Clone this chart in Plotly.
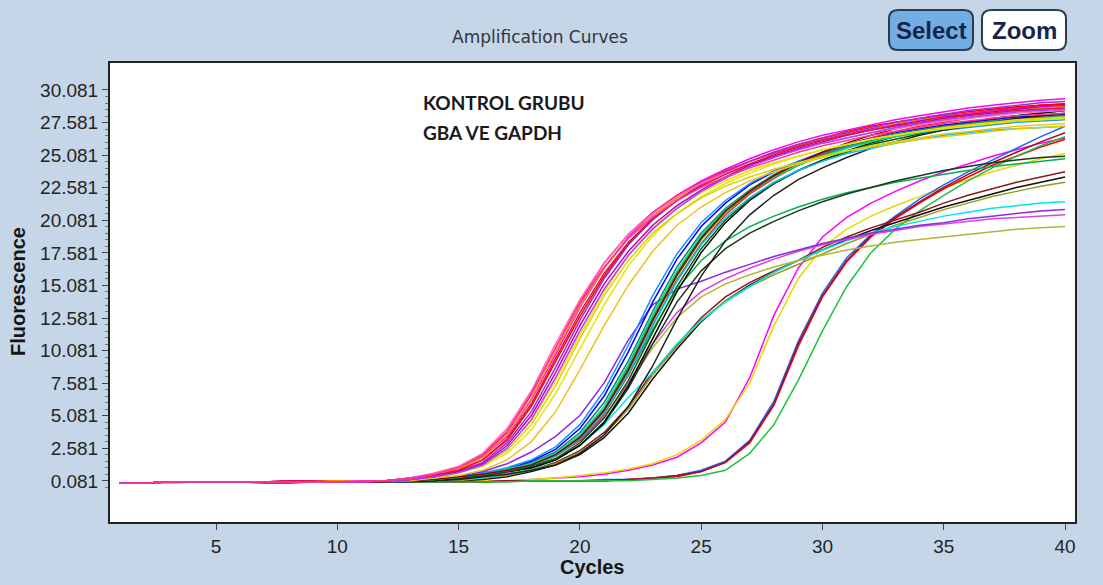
import plotly.graph_objects as go

cycles = list(range(1, 41))

# ---- early group (pink / magenta / red / orange) ----
a1 = [-0.1,-0.1,0.0,0.0,0.0,0.0,0.0,0.0,0.0,0.0,0.1,0.1, 0.3,0.6,1.1,1.9,3.5,6.3,9.8,13.4,16.4,18.8,20.6,22.0,23.1,24.0,24.8,25.5,26.1,26.6,27.0,27.4,27.8,28.1,28.4,28.7,28.9,29.1,29.3,29.4]
a2 = [-0.1,-0.1,0.0,0.0,0.0,0.0,0.0,0.0,0.0,0.1,0.1,0.1, 0.3,0.6,1.1,2.0,3.8,6.7,10.3,13.8,16.8,19.0,20.7,22.0,23.0,23.9,24.6,25.2,25.8,26.3,26.7,27.1,27.5,27.8,28.1,28.3,28.5,28.7,28.9,29.0]
a3 = [-0.1,-0.1,0.0,0.0,0.0,0.0,0.0,0.0,0.0,0.0,0.0,0.1, 0.2,0.5,0.9,1.7,3.2,5.8,9.2,12.7,15.8,18.3,20.2,21.6,22.8,23.8,24.6,25.3,25.9,26.4,26.9,27.3,27.6,27.9,28.2,28.4,28.6,28.8,28.9,29.0]
a4 = [-0.1,-0.1,0.0,0.0,0.0,0.0,0.0,0.0,0.1,0.1,0.1,0.1, 0.3,0.6,1.0,1.9,3.6,6.4,10.0,13.5,16.4,18.7,20.4,21.8,22.9,23.8,24.6,25.3,25.9,26.4,26.8,27.2,27.5,27.8,28.0,28.2,28.4,28.6,28.7,28.8]
a5 = [-0.1,-0.1,0.0,0.0,0.0,0.0,-0.1,-0.1,0.0,0.0,0.0,0.1, 0.2,0.4,0.8,1.5,3.0,5.4,8.8,12.4,15.6,18.2,20.1,21.6,22.8,23.8,24.6,25.3,25.9,26.4,26.8,27.2,27.6,27.9,28.2,28.5,28.7,28.9,29.1,29.2]
a6 = [-0.1,-0.1,0.0,0.0,0.0,0.0,0.0,0.0,0.0,0.0,0.1,0.1, 0.3,0.7,1.2,2.2,4.1,7.0,10.6,14.0,16.8,19.0,20.6,21.9,22.9,23.7,24.4,25.0,25.5,26.0,26.4,26.8,27.1,27.4,27.7,27.9,28.1,28.3,28.4,28.5]
a7 = [-0.1,-0.1,0.0,0.0,0.0,0.0,0.0,0.0,0.0,0.0,0.0,0.1, 0.2,0.4,0.8,1.4,2.8,5.1,8.4,12.0,15.2,17.7,19.7,21.2,22.4,23.4,24.3,25.0,25.6,26.1,26.6,27.0,27.4,27.7,28.0,28.2,28.4,28.6,28.8,28.9]
a8 = [-0.1,-0.1,0.0,0.0,0.0,0.0,0.0,0.1,0.1,0.0,0.0,0.1, 0.2,0.5,0.9,1.7,3.3,6.0,9.5,13.0,16.0,18.4,20.2,21.6,22.7,23.6,24.4,25.1,25.7,26.2,26.6,27.0,27.3,27.6,27.9,28.1,28.3,28.5,28.6,28.7]
a9 = [-0.1,-0.1,0.0,0.0,0.0,0.0,0.0,0.0,0.0,0.0,0.0,0.1, 0.2,0.4,0.7,1.3,2.6,4.8,8.0,11.6,14.8,17.4,19.4,21.0,22.3,23.3,24.2,24.9,25.5,26.0,26.4,26.8,27.2,27.5,27.8,28.0,28.2,28.4,28.5,28.6]
a10 = [-0.1,-0.1,0.0,0.0,0.0,0.0,0.0,0.0,0.0,0.0,0.1,0.1, 0.3,0.6,1.1,2.1,3.9,6.8,10.3,13.7,16.5,18.7,20.3,21.6,22.6,23.4,24.1,24.7,25.3,25.8,26.2,26.6,26.9,27.2,27.5,27.7,27.9,28.1,28.2,28.3]

# ---- yellow curves of the early group ----
y1 = [-0.1,-0.1,-0.1,0.0,0.0,0.0,0.0,0.0,0.1,0.1,0.1,0.1, 0.2,0.4,0.8,1.4,2.6,4.7,7.8,11.3,14.6,17.4,19.5,21.0,22.2,23.1,23.9,24.5,25.0,25.5,25.9,26.3,26.6,26.9,27.2,27.4,27.6,27.8,27.9,28.0]
y2 = [-0.1,-0.1,-0.1,0.0,0.0,0.0,0.0,0.0,0.0,0.1,0.1,0.1, 0.2,0.3,0.7,1.2,2.2,4.0,6.8,10.2,13.6,16.6,18.9,20.6,21.9,22.9,23.7,24.4,25.0,25.5,25.9,26.3,26.6,26.9,27.1,27.3,27.5,27.7,27.8,27.9]
y3 = [-0.1,-0.1,-0.1,0.0,0.0,0.0,0.0,0.0,0.0,0.1,0.1,0.1, 0.1,0.3,0.5,0.9,1.7,3.1,5.4,8.6,12.0,15.1,17.7,19.7,21.1,22.2,23.1,23.8,24.4,24.9,25.4,25.8,26.1,26.4,26.7,26.9,27.1,27.3,27.4,27.5]
y4 = [-0.1,-0.1,-0.1,0.0,0.0,0.0,0.0,0.0,0.0,0.1,0.1,0.1, 0.2,0.3,0.7,1.3,2.4,4.4,7.4,11.0,14.3,17.0,19.1,20.6,21.8,22.7,23.4,24.0,24.5,25.0,25.4,25.7,26.0,26.3,26.5,26.7,26.9,27.1,27.2,27.3]

# ---- middle group (green / teal / black / blue) ----
b1 = [-0.1,-0.1,0.0,0.0,0.0,0.0,0.0,0.0,0.0,0.0,0.0,0.0, 0.1,0.2,0.4,0.6,0.9,1.3,2.0,3.3,5.4,8.5,12.3,15.8,18.6,20.7,22.2,23.4,24.3,25.1,25.7,26.2,26.6,27.0,27.3,27.6,27.9,28.1,28.3,28.5]
b2 = [-0.1,-0.1,0.0,0.0,0.0,0.0,0.0,0.0,0.0,0.0,0.0,0.0, 0.1,0.2,0.4,0.6,1.0,1.5,2.3,3.8,6.1,9.3,13.1,16.5,19.1,21.0,22.4,23.5,24.4,25.1,25.7,26.2,26.6,27.0,27.3,27.5,27.7,27.9,28.0,28.1]
b3 = [-0.1,-0.1,0.0,0.0,0.0,0.0,0.0,0.0,0.0,0.0,0.0,0.0, 0.1,0.1,0.3,0.5,0.8,1.1,1.7,2.8,4.6,7.4,11.0,14.6,17.6,19.9,21.6,22.9,23.9,24.7,25.4,26.0,26.5,26.9,27.3,27.6,27.9,28.1,28.3,28.5]
b4 = [-0.1,-0.1,0.0,0.0,0.0,0.0,0.0,0.0,0.0,0.0,0.0,0.0, 0.1,0.2,0.4,0.7,1.0,1.6,2.5,4.1,6.6,10.0,13.8,17.1,19.6,21.4,22.8,23.8,24.6,25.3,25.9,26.4,26.8,27.1,27.4,27.6,27.8,28.0,28.1,28.2]
b5 = [-0.1,-0.1,0.0,0.0,0.0,0.0,0.0,0.1,0.1,0.0,0.0,0.0, 0.1,0.2,0.4,0.6,0.9,1.3,2.0,3.2,5.2,8.2,12.0,15.5,18.3,20.5,22.1,23.3,24.3,25.1,25.8,26.4,26.9,27.3,27.6,27.9,28.2,28.4,28.6,28.8]
b6 = [-0.1,-0.1,0.0,0.0,0.0,0.0,0.0,0.0,0.0,0.0,0.0,0.0, 0.1,0.1,0.3,0.5,0.8,1.2,1.8,3.0,4.9,7.8,11.5,15.0,17.9,20.1,21.7,22.9,23.9,24.7,25.3,25.9,26.3,26.7,27.0,27.3,27.5,27.7,27.9,28.0]
b7 = [-0.1,-0.1,0.0,0.0,0.0,0.0,0.0,0.0,0.1,0.1,0.0,0.0, 0.1,0.2,0.4,0.7,1.1,1.7,2.7,4.4,7.0,10.5,14.3,17.5,19.9,21.6,22.9,23.9,24.6,25.2,25.7,26.1,26.5,26.8,27.0,27.2,27.4,27.6,27.7,27.8]
b8 = [-0.1,-0.1,0.0,0.0,0.0,0.0,0.0,0.0,0.0,0.0,0.0,0.0, 0.1,0.2,0.4,0.6,0.9,1.3,2.1,3.5,5.6,8.8,12.6,16.0,18.8,20.9,22.4,23.6,24.5,25.2,25.8,26.3,26.7,27.0,27.3,27.5,27.7,27.9,28.0,28.1]
b9 = [-0.1,-0.1,0.0,0.0,0.0,0.0,0.0,0.0,0.0,0.0,0.0,0.0, 0.0,0.1,0.2,0.4,0.6,0.9,1.3,2.2,3.6,5.8,8.9,12.5,15.8,18.5,20.5,22.0,23.2,24.1,24.9,25.6,26.1,26.6,27.0,27.3,27.6,27.9,28.1,28.3]
b10 = [-0.1,-0.1,0.0,0.0,0.0,0.0,0.0,0.0,0.0,0.0,0.0,0.0, 0.1,0.2,0.4,0.6,1.0,1.4,2.2,3.6,5.8,9.0,12.8,16.2,18.9,20.9,22.3,23.4,24.3,25.0,25.6,26.1,26.5,26.8,27.1,27.3,27.5,27.7,27.8,27.9]
b11 = [-0.1,-0.1,0.0,0.0,0.0,0.0,0.0,0.0,0.1,0.1,0.1,0.0, 0.1,0.2,0.4,0.6,0.9,1.3,2.0,3.3,5.3,8.3,12.0,15.4,18.2,20.3,21.8,23.0,23.9,24.6,25.2,25.6,26.0,26.3,26.6,26.8,27.0,27.1,27.2,27.3]
b12 = [-0.1,-0.1,0.0,0.0,0.0,0.0,0.0,0.0,0.1,0.1,0.0,0.0, 0.1,0.2,0.4,0.6,0.9,1.3,2.1,3.4,5.5,8.6,12.4,15.9,18.7,20.8,22.3,23.5,24.5,25.3,26.0,26.6,27.1,27.5,27.9,28.2,28.5,28.7,28.9,29.0]

# ---- middle group, lower plateau ----
l1 = [-0.1,-0.1,0.0,0.0,0.0,0.0,0.0,0.0,0.0,0.0,0.0,0.0, 0.1,0.2,0.4,0.6,0.9,1.3,2.0,3.3,5.3,8.2,11.7,14.8,17.0,18.5,19.6,20.4,21.1,21.7,22.2,22.6,23.0,23.3,23.6,23.9,24.2,24.4,24.6,24.8]
l2 = [-0.1,-0.1,0.0,0.0,0.0,0.0,0.0,0.0,0.0,0.0,0.0,0.0, 0.1,0.1,0.3,0.5,0.8,1.1,1.7,2.8,4.5,7.2,10.6,13.8,16.2,17.9,19.1,20.0,20.8,21.5,22.1,22.6,23.1,23.5,23.9,24.2,24.5,24.7,24.9,25.0]

# ---- early-plateau curves ----
c1 = [-0.1,-0.1,0.0,0.0,0.0,0.0,0.0,0.0,0.0,0.0,0.0,0.0, 0.1,0.2,0.4,0.8,1.4,2.3,3.5,5.1,7.6,10.9,13.6,14.8,15.4,16.1,16.7,17.3,17.8,18.3,18.7,19.1,19.4,19.7,19.9,20.2,20.4,20.6,20.8,20.9]
c2 = [-0.1,-0.1,0.0,0.0,0.0,0.0,0.0,0.0,0.0,0.0,0.0,0.0, 0.1,0.1,0.2,0.4,0.7,1.2,2.0,3.2,5.0,7.6,10.6,13.0,14.6,15.6,16.4,17.1,17.7,18.2,18.6,19.0,19.3,19.6,19.8,20.0,20.2,20.3,20.4,20.5]
o1 = [-0.1,-0.1,0.0,0.0,0.0,0.0,0.0,0.0,0.0,0.0,0.1,0.1, 0.1,0.1,0.2,0.4,0.7,1.2,2.0,3.2,5.0,7.5,10.3,12.6,14.2,15.2,15.9,16.5,17.0,17.4,17.8,18.1,18.4,18.6,18.8,19.0,19.2,19.4,19.5,19.6]
c3 = [-0.1,-0.1,0.0,0.0,0.0,0.0,0.0,0.0,0.0,0.0,0.0,0.0, 0.0,0.1,0.2,0.3,0.6,1.0,1.7,2.8,4.4,6.5,8.4,10.6,12.4,13.8,15.0,16.1,17.0,17.8,18.5,19.1,19.6,20.0,20.4,20.7,21.0,21.2,21.4,21.5]

# ---- dark red / black / olive, plateau about 23-24 ----
r1 = [-0.1,-0.1,0.0,0.0,0.0,0.0,0.0,0.1,0.1,0.0,0.0,0.0, 0.0,0.1,0.1,0.3,0.5,0.9,1.5,2.4,3.8,5.8,8.4,10.5,12.6,14.2,15.3,16.2,17.0,18.0,18.8,19.5,20.1,20.7,21.4,22.0,22.5,23.0,23.4,23.8]
r2 = [-0.1,-0.1,0.0,0.0,0.0,0.0,0.0,0.0,0.0,0.0,0.0,0.0, 0.0,0.1,0.1,0.2,0.4,0.8,1.3,2.1,3.4,5.3,7.9,10.2,12.3,13.9,15.1,16.1,17.0,17.8,18.6,19.3,19.9,20.5,21.1,21.6,22.1,22.6,23.0,23.4]
r3 = [-0.1,-0.1,0.0,0.0,0.0,0.0,0.0,0.0,0.0,0.0,0.0,0.0, 0.0,0.1,0.1,0.3,0.5,0.9,1.4,2.3,3.6,5.6,8.2,10.4,12.4,13.9,15.0,15.9,16.7,17.5,18.3,19.0,19.7,20.3,20.9,21.4,21.9,22.3,22.7,23.0]

# ---- late group ----
d1 = [-0.1,-0.1,0.0,0.0,0.0,0.0,0.0,0.0,0.0,0.0,0.0,0.0, 0.0,0.0,0.1,0.1,0.1,0.2,0.3,0.4,0.6,0.9,1.3,1.9,3.0,4.6,8.0,12.8,16.4,18.8,20.3,21.4,22.3,23.1,23.8,24.4,25.0,25.5,26.0,26.4]
d2 = [-0.1,-0.1,0.0,0.0,0.0,0.0,0.0,0.0,0.1,0.1,0.1,0.0, 0.0,0.0,0.1,0.1,0.1,0.2,0.3,0.5,0.7,1.0,1.4,2.1,3.2,4.8,7.6,12.0,15.6,18.0,19.4,20.4,21.2,21.9,22.6,23.2,23.8,24.3,24.8,25.2]
d3 = [-0.1,-0.1,0.0,0.0,0.0,0.0,0.0,0.0,0.0,0.0,0.0,0.0, 0.0,0.0,0.0,0.0,0.1,0.1,0.1,0.1,0.2,0.2,0.3,0.5,0.9,1.6,3.2,6.2,10.8,14.5,17.2,19.0,20.4,21.7,22.8,23.8,24.7,25.6,26.5,27.3]
d4 = [-0.1,-0.1,0.0,0.0,0.0,0.0,0.0,0.0,0.0,0.0,0.0,0.0, 0.0,0.0,0.0,0.0,0.1,0.1,0.1,0.1,0.1,0.2,0.3,0.4,0.8,1.5,3.0,5.9,10.4,14.2,16.9,18.8,20.2,21.4,22.5,23.4,24.3,25.0,25.7,26.3]
d5 = [-0.1,-0.1,0.0,0.0,0.0,0.0,0.0,0.0,0.0,0.0,0.0,0.0, 0.0,0.0,0.0,0.0,0.1,0.1,0.1,0.1,0.1,0.2,0.3,0.5,0.8,1.5,3.1,6.0,10.6,14.3,17.0,18.9,20.3,21.5,22.6,23.6,24.5,25.3,26.1,26.8]
d6 = [-0.1,-0.1,0.0,0.0,0.0,0.0,0.0,0.0,0.0,0.0,0.0,0.0, 0.0,0.0,0.0,0.0,0.0,0.1,0.1,0.1,0.1,0.1,0.2,0.3,0.5,0.9,2.2,4.4,7.8,11.6,15.0,17.6,19.4,20.8,22.0,23.1,24.1,25.0,25.8,26.5]

series = [d1, d2, d3, d4, d5, d6, r1, r2, r3, c3, o1, c2, c1, l1, l2,
          b1, b2, b3, b4, b5, b6, b7, b8, b9, b10, b11, b12,
          y1, y2, y3, y4,
          a1, a2, a3, a4, a5, a6, a7, a8, a9, a10]
colors = ["#ff00ff", "#e6d800", "#1e64ff", "#ff0000", "#a0102a", "#20c040",
          "#8b1a1a", "#101010", "#9a9a20", "#00e5ee", "#b5b535", "#e040e0", "#8a2be2",
          "#00b050", "#1a3a1a",
          "#00c000", "#008b8b", "#000000", "#0000ff", "#ff2020", "#006400", "#1e90ff",
          "#2e8b57", "#202020", "#00e070", "#00bfff", "#8b0000",
          "#ffd700", "#e6e600", "#f0c020", "#d4d400",
          "#ff00ff", "#ff1493", "#ff0000", "#ff8c00", "#9932cc", "#ff69b4", "#c000c0",
          "#dc143c", "#b040ff", "#ff3399"]

ytick_vals = [0.081, 2.581, 5.081, 7.581, 10.081, 12.581, 15.081, 17.581, 20.081, 22.581, 25.081, 27.581, 30.081]
ytick_text = ["0.081", "2.581", "5.081", "7.581", "10.081", "12.581", "15.081", "17.581",
              "20.081", "22.581", "25.081", "27.581", "30.081"]
xtick_vals = [5, 10, 15, 20, 25, 30, 35, 40]

fig = go.Figure()
for vals, col in zip(series, colors):
    assert len(vals) == len(cycles)
    fig.add_trace(go.Scatter(x=cycles, y=vals, mode="lines",
                             line=dict(color=col, width=1.5), hoverinfo="skip"))

# plot area in pixels
L, R, T, B = 110, 1075, 63, 522
W, H = 1103, 585


def px(xp):
    return (xp - L) / (R - L)


def py(yp):
    return (B - yp) / (B - T)


def rounded(x0, y0, x1, y1, r):
    rx = r / (R - L)
    ry = r / (B - T)
    X0, X1 = px(x0), px(x1)
    Y0, Y1 = py(y1), py(y0)  # bottom, top
    return (f"M {X0+rx},{Y0} L {X1-rx},{Y0} Q {X1},{Y0} {X1},{Y0+ry} "
            f"L {X1},{Y1-ry} Q {X1},{Y1} {X1-rx},{Y1} L {X0+rx},{Y1} "
            f"Q {X0},{Y1} {X0},{Y1-ry} L {X0},{Y0+ry} Q {X0},{Y0} {X0+rx},{Y0} Z")


shapes = [
    dict(type="path", xref="paper", yref="paper", path=rounded(889, 10, 973, 50, 9),
         fillcolor="#72aee4", line=dict(color="#2b3b4f", width=2), layer="above"),
    dict(type="path", xref="paper", yref="paper", path=rounded(982, 10, 1066, 50, 9),
         fillcolor="#ffffff", line=dict(color="#2b3b4f", width=2), layer="above"),
]

tick_font = dict(family="Liberation Sans, Arial, sans-serif", size=19, color="#252525")

annotations = [
    dict(text="Amplification Curves", x=px(540), y=py(37), xref="paper", yref="paper",
         showarrow=False, xanchor="center", yanchor="middle",
         font=dict(family="DejaVu Sans, Verdana, sans-serif", size=17, color="#333340")),
    dict(text="Select", x=px(931), y=py(31), xref="paper", yref="paper",
         showarrow=False, xanchor="center", yanchor="middle",
         font=dict(family="Liberation Sans, Arial, sans-serif", size=24, color="#15254a", weight="bold")),
    dict(text="Zoom", x=px(1024), y=py(31), xref="paper", yref="paper",
         showarrow=False, xanchor="center", yanchor="middle",
         font=dict(family="Liberation Sans, Arial, sans-serif", size=24, color="#15254a", weight="bold")),
    dict(text="KONTROL GRUBU", x=px(421), y=py(103), xref="paper", yref="paper",
         showarrow=False, xanchor="left", yanchor="middle",
         font=dict(family="Lato, Open Sans, sans-serif", size=19, color="#1a1a1a", weight="bold")),
    dict(text="GBA VE GAPDH", x=px(421), y=py(132), xref="paper", yref="paper",
         showarrow=False, xanchor="left", yanchor="middle",
         font=dict(family="Lato, Open Sans, sans-serif", size=19, color="#1a1a1a", weight="bold")),
    dict(text="Fluorescence", x=px(18), y=py(292), xref="paper", yref="paper",
         showarrow=False, xanchor="center", yanchor="middle", textangle=-90,
         font=dict(family="Liberation Sans, Arial, sans-serif", size=20, color="#151515", weight="bold")),
    dict(text="Cycles", x=px(592), y=py(567), xref="paper", yref="paper",
         showarrow=False, xanchor="center", yanchor="middle",
         font=dict(family="Liberation Sans, Arial, sans-serif", size=20, color="#151515", weight="bold")),
]

minor_vals = [round(-0.419 + 0.5 * i, 3) for i in range(62)]

fig.update_layout(
    width=W, height=H,
    margin=dict(l=L, r=W - R, t=T, b=H - B, pad=0),
    paper_bgcolor="#c4d6e7", plot_bgcolor="#ffffff",
    showlegend=False,
    shapes=shapes, annotations=annotations,
    xaxis=dict(range=[0.63, 40.41], tickmode="array", tickvals=xtick_vals,
               ticks="outside", ticklen=6, tickwidth=1, tickcolor="#444",
               showgrid=False, zeroline=False, showline=True, mirror=True,
               linecolor="#222", linewidth=2, tickfont=tick_font, fixedrange=True),
    yaxis=dict(range=[-3.07, 32.15], tickmode="array", tickvals=ytick_vals, ticktext=ytick_text,
               ticks="outside", ticklen=6, tickwidth=1, tickcolor="#444",
               minor=dict(tickmode="array", tickvals=minor_vals, ticks="outside",
                          ticklen=3, tickcolor="#777", showgrid=False),
               showgrid=False, zeroline=False, showline=True, mirror=True,
               linecolor="#222", linewidth=2, tickfont=tick_font, fixedrange=True),
)

fig.write_html("out.html", config=dict(displayModeBar=False))
